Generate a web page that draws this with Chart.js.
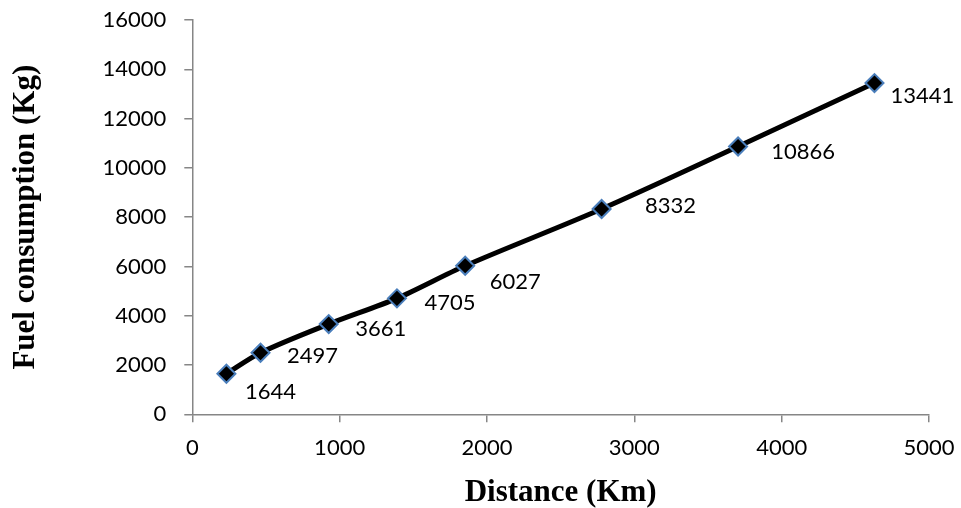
<!DOCTYPE html>
<html>
<head>
<meta charset="utf-8">
<script src="https://cdn.jsdelivr.net/npm/chart.js@4/dist/chart.umd.min.js"></script>
<style>
  html, body { margin: 0; padding: 0; background: #fff; }
  #wrap { width: 961px; height: 508px; }
</style>
</head>
<body>
<div id="wrap"><canvas id="fuelChart" width="961" height="508"></canvas></div>
<script>
// distance flown (km) and fuel burnt (kg)
var distanceKm = [231.5, 463, 926, 1389, 1852, 2778, 3704, 4630];
var fuelKg = [1644, 2497, 3661, 4705, 6027, 8332, 10866, 13441];

var xTicks = [0, 1000, 2000, 3000, 4000, 5000];
var yTicks = [0, 2000, 4000, 6000, 8000, 10000, 12000, 14000, 16000];

// where each value label sits relative to its marker (px)
var labelShift = [[44, 18], [52, 3], [52, 5], [53, 5], [50, 16], [69, -3], [65, 5], [48, 13]];

var axisGrey = '#868686';
var tickFont = { family: 'Lato', size: 22 };
var titleFont = { family: 'Liberation Serif', size: 31, weight: 'bold', lineHeight: 1 };

var valueLabels = {
  id: 'valueLabels',
  afterDatasetsDraw: function(chart) {
    var ctx = chart.ctx;
    var meta = chart.getDatasetMeta(0);
    ctx.save();
    ctx.font = '22px Lato';
    ctx.fillStyle = '#000';
    ctx.textAlign = 'center';
    ctx.textBaseline = 'middle';
    meta.data.forEach(function(pt, i) {
      ctx.fillText(String(fuelKg[i]), pt.x + labelShift[i][0], pt.y + labelShift[i][1]);
    });
    ctx.restore();
  }
};

var points = distanceKm.map(function(d, i) {
  return { x: d, y: fuelKg[i] };
});

function plain(v) { return String(v); }

var chart = new Chart(document.getElementById('fuelChart'), {
  type: 'scatter',
  data: {
    datasets: [{
      data: points,
      showLine: true,
      borderColor: '#000',
      borderWidth: 5,
      tension: 0.3,
      pointStyle: 'rectRot',
      pointRadius: 9,
      pointHoverRadius: 9,
      pointBackgroundColor: '#000',
      pointBorderColor: '#4A7EBB',
      pointBorderWidth: 2
    }]
  },
  options: {
    responsive: false,
    animation: false,
    layout: { padding: { left: 0, top: 20, right: 32, bottom: 0 } },
    plugins: {
      legend: { display: false },
      tooltip: { enabled: false }
    },
    scales: {
      x: {
        type: 'linear',
        min: 0,
        max: 5000,
        afterBuildTicks: function(scale) {
          scale.ticks = xTicks.map(function(v) { return { value: v }; });
        },
        afterFit: function(scale) {
          scale.height = 93.7;
          scale.paddingLeft = 0;
          scale.paddingRight = 0;
        },
        ticks: { font: tickFont, color: '#000', padding: 12, callback: plain },
        grid: { drawOnChartArea: false, drawTicks: true, tickLength: 8, tickColor: axisGrey, lineWidth: 1.5 },
        border: { display: true, color: axisGrey, width: 1.5 },
        title: { display: true, text: 'Distance (Km)', font: titleFont, color: '#000', padding: { top: 0, bottom: 0 } }
      },
      y: {
        type: 'linear',
        min: 0,
        max: 16000,
        afterBuildTicks: function(scale) {
          scale.ticks = yTicks.map(function(v) { return { value: v }; });
        },
        afterFit: function(scale) {
          scale.width = 192.3;
          scale.paddingTop = 0;
          scale.paddingBottom = 0;
        },
        ticks: { font: tickFont, color: '#000', padding: 18, callback: plain },
        grid: { drawOnChartArea: false, drawTicks: true, tickLength: 8, tickColor: axisGrey, lineWidth: 1.5 },
        border: { display: true, color: axisGrey, width: 1.5 },
        title: { display: true, text: 'Fuel consumption (Kg)', font: titleFont, color: '#000', padding: { top: 10, bottom: 0 } }
      }
    }
  },
  plugins: [valueLabels]
});
</script>
</body>
</html>
